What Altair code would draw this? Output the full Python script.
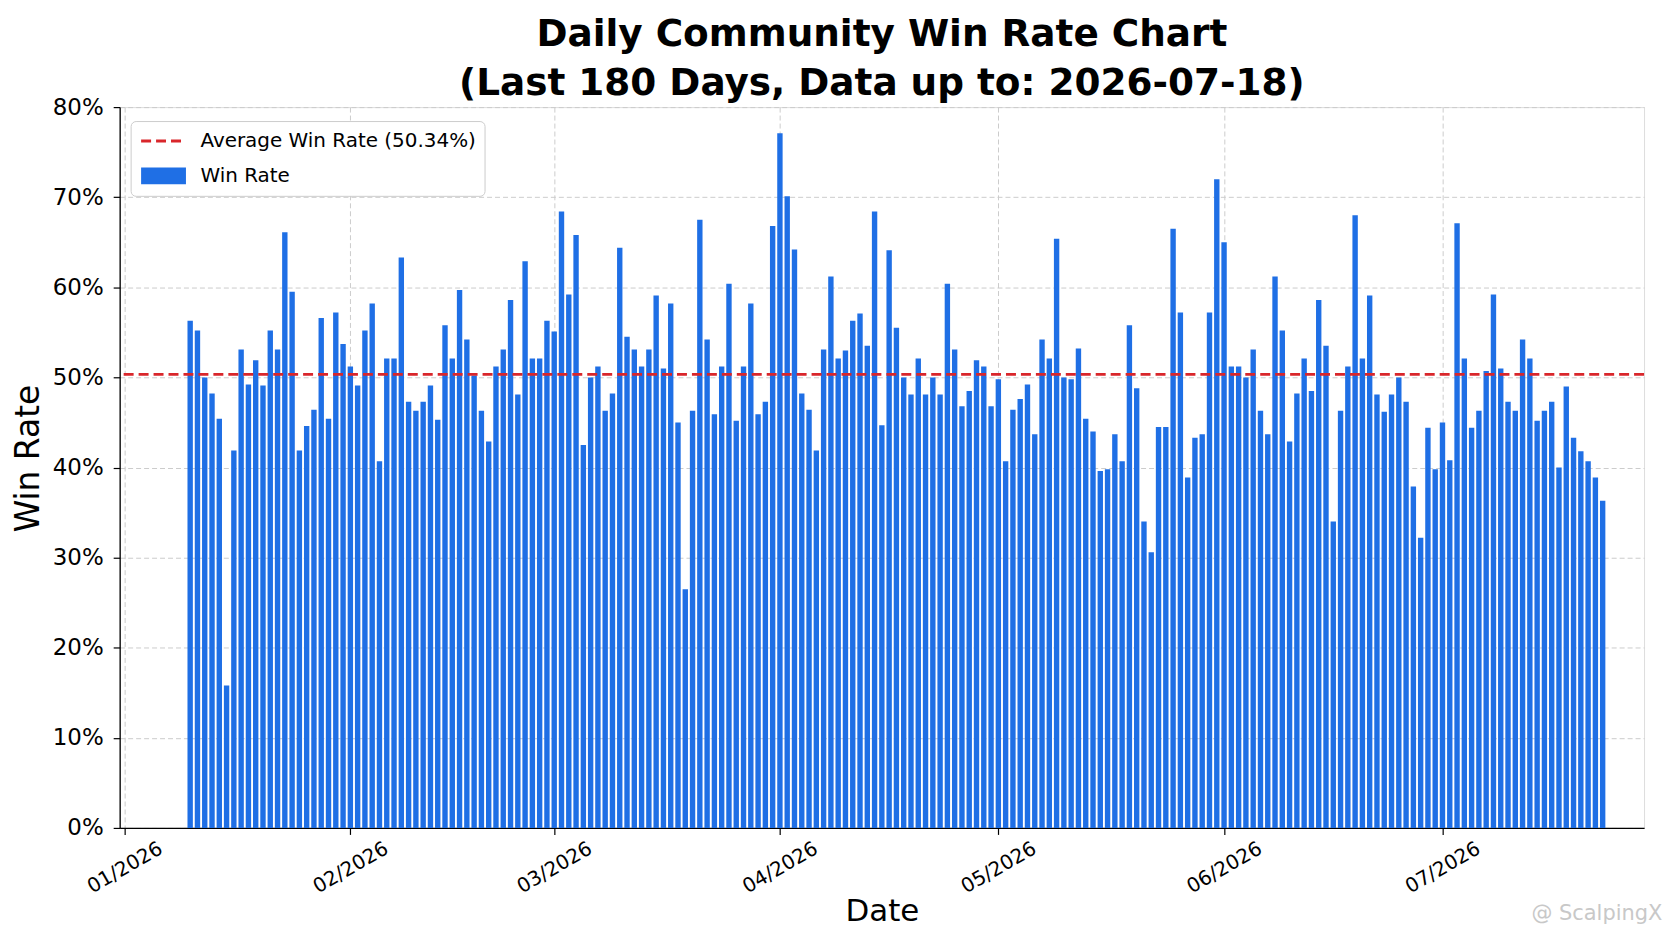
import altair as alt
import pandas as pd

# ---------------- data ----------------
FIRST_DATE = "2026-01-10"
WIN_RATE = [
    56.3, 55.2, 50.0, 48.2, 45.4, 15.8, 41.9, 53.1, 49.2, 51.9,
    49.1, 55.2, 53.1, 66.1, 59.5, 41.9, 44.6, 46.4, 56.6, 45.4,
    57.2, 53.7, 51.2, 49.1, 55.2, 58.2, 40.7, 52.1, 52.1,
    63.3, 47.3, 46.3, 47.3, 49.1, 45.3, 55.8, 52.1, 59.7, 54.2,
    50.2, 46.3, 42.9, 51.2, 53.1, 58.6, 48.1, 62.9, 52.1, 52.1,
    56.3, 55.1, 68.4, 59.2, 65.8, 42.5, 50.0, 51.2, 46.3, 48.2,
    64.4, 54.5, 53.1, 51.2, 53.1, 59.1, 51.0, 58.2, 45.0, 26.5,
    46.3, 67.5, 54.2, 45.9, 51.2, 60.4, 45.2, 51.2, 58.2, 45.9,
    47.3, 66.8, 77.1, 70.1, 64.2, 48.2, 46.4, 41.9, 53.1,
    61.2, 52.1, 53.0, 56.3, 57.1, 53.5, 68.4, 44.7, 64.1, 55.5,
    50.0, 48.1, 52.1, 48.1, 50.0, 48.1, 60.4, 53.1, 46.8, 48.5,
    51.9, 51.2, 46.8, 49.8, 40.7, 46.4, 47.6, 49.2, 43.7,
    54.2, 52.1, 65.4, 50.0, 49.8, 53.2, 45.4, 44.0, 39.6, 39.8,
    43.7, 40.7, 55.8, 48.8, 34.0, 30.6, 44.5, 44.5, 66.5, 57.2,
    38.9, 43.3, 43.7, 57.2, 72.0, 65.0, 51.2, 51.2, 50.0, 53.1, 46.3,
    43.7, 61.2, 55.2, 42.9, 48.2, 52.1, 48.5, 58.6, 53.5, 34.0,
    46.3, 51.2, 68.0, 52.1, 59.1, 48.1, 46.2, 48.1, 50.0, 47.3,
    37.9, 32.2, 44.4, 39.8, 45.0, 40.8, 67.1, 52.1, 44.4, 46.3,
    50.7, 59.2, 51.0, 47.3, 46.3, 54.2, 52.1, 45.2, 46.3,
    47.3, 40.0, 49.0, 43.3, 41.8, 40.7, 38.9, 36.3,
]
AVERAGE = 50.34
SERIES = ["Average Win Rate (50.34%)", "Win Rate"]
TITLE_LINES = ["Daily Community Win Rate Chart",
               "(Last 180 Days, Data up to: 2026-07-18)"]
X_DOMAIN = ["2026-01-01", "2026-07-28"]
Y_TICKS = [0, 10, 20, 30, 40, 50, 60, 70, 80]
WATERMARK = ["@ ScalpingX"]

# ---------------- styling ----------------
FONT = "DejaVu Sans"
BAR_BLUE = "#1f6fe5"
AVG_RED = "#d9262b"

dates = pd.date_range(FIRST_DATE, periods=len(WIN_RATE), freq="D")
bars_df = pd.DataFrame({"date": dates.strftime("%Y-%m-%d"), "win_rate": WIN_RATE})
avg_df = pd.DataFrame({"avg": [AVERAGE], "series": [SERIES[0]]})
wm_df = pd.DataFrame({"label": WATERMARK})


def to_dt(s):
    y, m, d = (int(p) for p in s.split("-"))
    return alt.DateTime(year=y, month=m, date=d, utc=True)


x_enc = alt.X(
    "date:T",
    title="Date",
    scale=alt.Scale(type="utc", domain=[to_dt(s) for s in X_DOMAIN]),
    axis=alt.Axis(
        format="%m/%Y",
        tickCount=alt.TimeIntervalStep(interval="month", step=1),
        labelAngle=330,
        labelAlign="center",
        labelBaseline="middle",
        labelPadding=33,
        labelFontSize=20,
        labelFont=FONT,
        labelColor="black",
        labelFlush=False,
        labelOverlap=False,
        tickSize=6.5,
        tickColor="black",
        tickWidth=1.2,
        domainColor="black",
        domainWidth=1.3,
        grid=True,
        gridDash=[5, 3],
        gridColor="#cccccc",
        gridWidth=1,
        titleFont=FONT,
        titleFontSize=31,
        titleFontWeight="normal",
        titleColor="black",
        titleBaseline="alphabetic",
        titleY=93,
    ),
)

y_enc = alt.Y(
    "win_rate:Q",
    title="Win Rate",
    scale=alt.Scale(domain=[0, 80], nice=False),
    axis=alt.Axis(
        values=Y_TICKS,
        labelExpr="datum.value + '%'",
        labelFontSize=23,
        labelFont=FONT,
        labelColor="black",
        labelPadding=10,
        tickSize=6.5,
        tickColor="black",
        tickWidth=1.2,
        domainColor="black",
        domainWidth=1.3,
        grid=True,
        gridDash=[5, 3],
        gridColor="#cccccc",
        gridWidth=1,
        titleFont=FONT,
        titleFontSize=33,
        titleFontWeight="normal",
        titleColor="black",
        titleBaseline="alphabetic",
        titleX=-81,
        titleY=352,
    ),
)

bars = alt.Chart(bars_df).mark_bar(size=5.4, color=BAR_BLUE).encode(x=x_enc, y=y_enc)

legend = alt.Legend(
    title=None,
    orient="none",
    legendX=11,
    legendY=14,
    symbolType="M-2,0H2",
    symbolSize=506,
    symbolOffset=5,
    labelFontSize=20,
    labelFont=FONT,
    labelColor="black",
    labelLimit=400,
    labelOffset=17,
    padding=8,
    rowPadding=11,
    clipHeight=24,
    fillColor="white",
    strokeColor="#cccccc",
    cornerRadius=5,
)

rule = alt.Chart(avg_df).mark_rule().encode(
    y=alt.Y("avg:Q"),
    color=alt.Color("series:N", scale=alt.Scale(domain=SERIES, range=[AVG_RED, BAR_BLUE]),
                    legend=legend),
    strokeDash=alt.StrokeDash("series:N",
                              scale=alt.Scale(type="ordinal", domain=SERIES, range=[[10, 5], [1, 0]]),
                              legend=legend),
    strokeWidth=alt.StrokeWidth("series:N",
                                scale=alt.Scale(type="ordinal", domain=SERIES, range=[2.8, 17]),
                                legend=legend),
)

watermark = alt.Chart(wm_df).mark_text(
    align="left", baseline="middle", fontSize=21, font=FONT, color="#c8c8c8"
).encode(text="label:N", x=alt.value(1416), y=alt.value(809))

chart = (
    alt.layer(bars, rule, watermark)
    .properties(
        width=1529,
        height=723,
        autosize=alt.AutoSizeParams(type="none"),
        padding={"left": 112, "top": 98, "right": 20, "bottom": 104},
        title=alt.TitleParams(
            text=TITLE_LINES,
            font=FONT,
            fontSize=37.5,
            fontWeight="bold",
            lineHeight=49,
            anchor="middle",
            color="black",
            offset=-6,
        ),
    )
    .configure_view(stroke="black", strokeWidth=1.3)
    .configure(background="white")
)

chart.save("out.html", embed_options={"renderer": "svg", "actions": False})
